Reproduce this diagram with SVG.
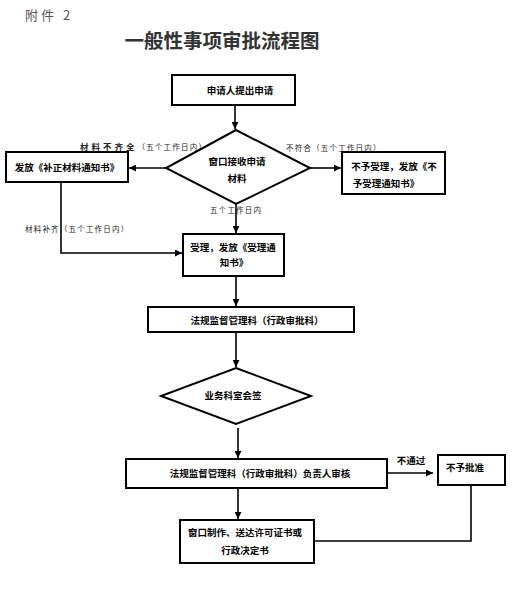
<svg xmlns="http://www.w3.org/2000/svg" width="528" height="600" viewBox="0 0 528 600">
<defs>
<style>
.box{fill:#fff;stroke:#000;stroke-width:2}
.t{font-family:"Noto Sans CJK SC","Liberation Sans",sans-serif;font-size:9.5px;font-weight:700;fill:#000;text-anchor:middle}
.s{font-family:"Noto Sans CJK SC","Liberation Sans",sans-serif;font-size:7.5px;fill:#222;letter-spacing:1.2px}
.c{fill:none;stroke:#000;stroke-width:1.6}
</style>
<marker id="ah" viewBox="0 0 10 10" refX="10" refY="5" markerWidth="7" markerHeight="7" orient="auto" markerUnits="userSpaceOnUse">
<path d="M0,0 L10,5 L0,10 z" fill="#000"/>
</marker>
</defs>
<rect width="528" height="600" fill="#fff"/>
<text x="25" y="20" font-family="Noto Sans CJK SC, sans-serif" font-size="13" fill="#555" letter-spacing="3">附件 2</text>
<text x="222" y="48" font-family="Noto Sans CJK SC, sans-serif" font-size="19.5" font-weight="700" fill="#333" text-anchor="middle">一般性事项审批流程图</text>

<g id="connectors">
<path class="c" d="M235,105 V129" marker-end="url(#ah)"/>
<path class="c" d="M166,168 H129" marker-end="url(#ah)"/>
<path class="c" d="M310,168 H341" marker-end="url(#ah)"/>
<path class="c" d="M236,204 V233" marker-end="url(#ah)"/>
<path class="c" d="M61,182 V253 H182" marker-end="url(#ah)"/>
<path class="c" d="M236,276 V306" marker-end="url(#ah)"/>
<path class="c" d="M236,332 V367" marker-end="url(#ah)"/>
<path class="c" d="M238,428 V458" marker-end="url(#ah)"/>
<path class="c" d="M388,473 H433" marker-end="url(#ah)"/>
<path class="c" d="M471,485 V541 H307" marker-end="url(#ah)"/>
<path class="c" d="M238,488 V519" marker-end="url(#ah)"/>
<text class="s" x="80" y="150"><tspan font-weight="700" font-size="8.5" letter-spacing="3">材料不齐全</tspan>（五个工作日内）</text>
<text class="s" x="286" y="151">不符合（五个工作日内）</text>
<text class="s" x="210" y="213">五个工作日内</text>
<text class="s" x="25" y="232">材料补齐（五个工作日内）</text>
<text class="t" x="411" y="464">不通过</text>
</g>

<g id="n1"><rect class="box" x="172" y="75" width="123" height="30"/><text class="t" x="240" y="94">申请人提出申请</text></g>
<g id="n2"><polygon class="box" points="236,130 310,168 236,204 166,168"/><text class="t" x="237" y="165">窗口接收申请</text><text class="t" x="237" y="182">材料</text></g>
<g id="n3"><rect class="box" x="6" y="152" width="122" height="30"/><text class="t" x="67" y="171">发放《补正材料通知书》</text></g>
<g id="n4"><rect class="box" x="342" y="152" width="103" height="42"/><text class="t" x="394" y="170">不予受理，发放《不</text><text class="t" x="386" y="187">予受理通知书》</text></g>
<g id="n5"><rect class="box" x="183" y="234" width="101" height="42"/><text class="t" x="233" y="251">受理，发放《受理通</text><text class="t" x="234" y="266">知书》</text></g>
<g id="n6"><rect class="box" x="148" y="307" width="206" height="25"/><text class="t" x="257" y="324">法规监督管理科（行政审批科）</text></g>
<g id="n7"><polygon class="box" points="236,368 311,396 236,424 161,396"/><text class="t" x="233" y="399">业务科室会签</text></g>
<g id="n8"><rect class="box" x="126" y="459" width="261" height="29"/><text class="t" x="260" y="477">法规监督管理科（行政审批科）负责人审核</text></g>
<g id="n9"><rect class="box" x="438" y="455" width="67" height="30"/><text class="t" x="465" y="471">不予批准</text></g>
<g id="n10"><rect class="box" x="180" y="520" width="134" height="43"/><text class="t" x="245" y="536">窗口制作、送达许可证书或</text><text class="t" x="245" y="554">行政决定书</text></g>
</svg>
